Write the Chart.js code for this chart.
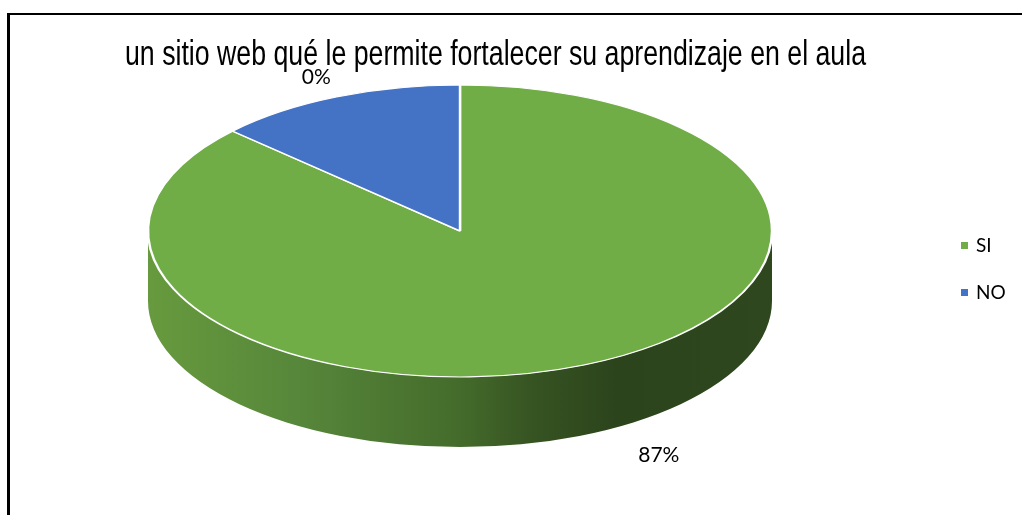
<!DOCTYPE html>
<html>
<head>
<meta charset="utf-8">
<script src="https://cdn.jsdelivr.net/npm/chart.js@4.4.1/dist/chart.umd.min.js"></script>
<style>
  html, body { margin: 0; padding: 0; background: #fff; }
  #wrap { position: relative; width: 1022px; height: 515px; overflow: hidden; }
  #frame { position: absolute; left: 7px; top: 13px; right: -5px; bottom: -5px;
           border-top: 2px solid #000; border-left: 3px solid #000; pointer-events: none; }
  canvas { position: absolute; left: 0; top: 0; }
</style>
</head>
<body>
<div id="wrap">
  <canvas id="c" width="1022" height="515"></canvas>
  <div id="frame"></div>
</div>
<script>
// ---- data ----
const chartTitle = 'un sitio web qué le permite fortalecer su aprendizaje en el aula';
const categories = ['SI', 'NO'];
const values = [87, 13];
const dataLabels = ['87%', '0%'];
const sliceColors = ['#70AD47', '#4472C4'];

// ---- 3D look settings ----
const geo = { cx: 460, cy: 231, rx: 312, ry: 146, depth: 70 };
const labelNudge = [{ dx: 59, dy: 0 }, { dx: -4, dy: 0 }];

const pie3d = {
  id: 'pie3d',
  beforeDatasetsDraw(chart) {
    const ctx = chart.ctx;
    const arcs = chart.getDatasetMeta(0).data;
    const g = ctx.createLinearGradient(geo.cx - geo.rx, 0, geo.cx + geo.rx, 0);
    g.addColorStop(0.00, '#679a3e');
    g.addColorStop(0.25, '#56863a');
    g.addColorStop(0.50, '#446b2b');
    g.addColorStop(0.62, '#365322');
    g.addColorStop(0.75, '#2c441c');
    g.addColorStop(1.00, '#2e471e');
    arcs.forEach((arc, i) => {
      const p = arc.getProps(['startAngle', 'endAngle'], true);
      for (let k = -1; k <= 1; k++) {
        const off = k * 2 * Math.PI;
        const a0 = Math.max(p.startAngle, 0 + off);
        const a1 = Math.min(p.endAngle, Math.PI + off);
        if (a1 <= a0) continue;
        ctx.save();
        ctx.beginPath();
        ctx.ellipse(geo.cx, geo.cy, geo.rx, geo.ry, 0, a0, a1, false);
        ctx.ellipse(geo.cx, geo.cy + geo.depth, geo.rx, geo.ry, 0, a1, a0, true);
        ctx.closePath();
        ctx.fillStyle = i === 0 ? g : sliceColors[i];
        ctx.fill();
        ctx.restore();
      }
    });
    const a = arcs[0];
    const R = a.outerRadius;
    ctx.save();
    ctx.translate(geo.cx, geo.cy);
    ctx.scale(geo.rx / R, geo.ry / R);
    ctx.translate(-a.x, -a.y);
  },
  afterDatasetsDraw(chart) {
    chart.ctx.restore();
  },
  afterDraw(chart) {
    const ctx = chart.ctx;
    const arcs = chart.getDatasetMeta(0).data;
    ctx.save();
    // title (narrow face emulated by horizontal scaling)
    ctx.fillStyle = '#000';
    ctx.textAlign = 'center';
    ctx.textBaseline = 'alphabetic';
    ctx.font = '35px "Liberation Sans", Arial, sans-serif';
    const w = ctx.measureText(chartTitle).width;
    const sx = 741 / w;
    ctx.save();
    ctx.translate(495.5, 65);
    ctx.scale(sx, 1);
    ctx.fillText(chartTitle, 0, 0);
    ctx.restore();
    // data labels
    ctx.font = '21px Lato, "Open Sans", sans-serif';
    ctx.textBaseline = 'middle';
    arcs.forEach((arc, i) => {
      const p = arc.getProps(['startAngle', 'endAngle'], true);
      const m = (p.startAngle + p.endAngle) / 2;
      const c = Math.cos(m), s = Math.sin(m);
      let x = geo.cx + c * (geo.rx + 40);
      let y = geo.cy + s * (geo.ry + 22) + (s > 0 ? geo.depth : 0);
      x += labelNudge[i].dx; y += labelNudge[i].dy;
      ctx.fillText(dataLabels[i], x, y);
    });
    // legend
    ctx.textAlign = 'left';
    ctx.font = '19px Lato, "Open Sans", sans-serif';
    categories.forEach((cat, i) => {
      const y = 245 + i * 47;
      ctx.fillStyle = sliceColors[i];
      ctx.fillRect(961, y - 3, 7, 7);
      ctx.fillStyle = '#000';
      ctx.fillText(cat, 976, y + 1);
    });
    ctx.restore();
  }
};

new Chart(document.getElementById('c'), {
  type: 'pie',
  data: {
    labels: categories,
    datasets: [{
      data: values,
      backgroundColor: sliceColors,
      borderColor: '#ffffff',
      borderWidth: 2
    }]
  },
  options: {
    responsive: false,
    animation: false,
    events: [],
    layout: { padding: 0 },
    plugins: {
      legend: { display: false },
      title: { display: false },
      tooltip: { enabled: false }
    }
  },
  plugins: [pie3d]
});
</script>
</body>
</html>
